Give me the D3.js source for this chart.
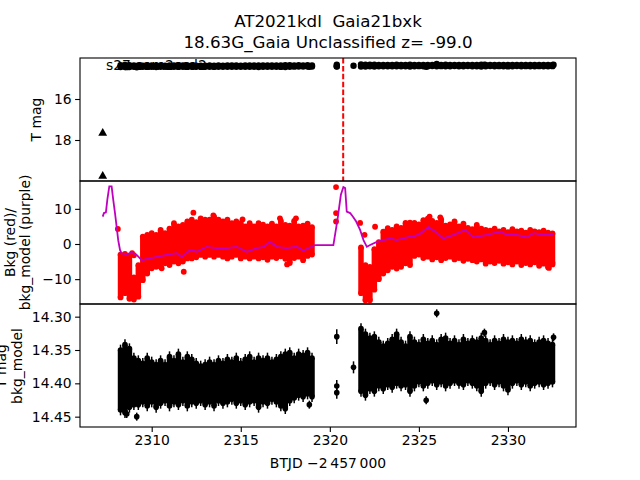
<!DOCTYPE html>
<html>
<head>
<meta charset="utf-8">
<script src="https://cdn.jsdelivr.net/npm/d3@7"></script>
<style>
  body { margin: 0; background: #fff; }
  text { font-family: "DejaVu Sans", sans-serif; }
</style>
</head>
<body>
<div id="chart"></div>
<script>
// Light curve of AT2021kdl, three stacked panels sharing the time axis.
// Dense bands are stored as per-time envelopes (top/bottom).

const seg1T = [2308.25, 2308.5, 2308.75, 2309, 2309.25, 2309.5, 2309.75, 2310, 2310.25, 2310.5,
  2310.75, 2311, 2311.25, 2311.5, 2311.75, 2312, 2312.25, 2312.5, 2312.75, 2313,
  2313.25, 2313.5, 2313.75, 2314, 2314.25, 2314.5, 2314.75, 2315, 2315.25, 2315.5,
  2315.75, 2316, 2316.25, 2316.5, 2316.75, 2317, 2317.25, 2317.5, 2317.75, 2318,
  2318.25, 2318.5, 2318.75, 2319];
const seg2T = [2321.75, 2322, 2322.25, 2322.5, 2322.75, 2323, 2323.25, 2323.5, 2323.75, 2324,
  2324.25, 2324.5, 2324.75, 2325, 2325.25, 2325.5, 2325.75, 2326, 2326.25, 2326.5,
  2326.75, 2327, 2327.25, 2327.5, 2327.75, 2328, 2328.25, 2328.5, 2328.75, 2329,
  2329.25, 2329.5, 2329.75, 2330, 2330.25, 2330.5, 2330.75, 2331, 2331.25, 2331.5,
  2331.75, 2332, 2332.25, 2332.5];

// T mag - bkg_model (bright edge / faint edge of the band)
const magTop1 = [14.350, 14.342, 14.348, 14.362, 14.366, 14.370, 14.362, 14.368, 14.372, 14.366,
  14.372, 14.360, 14.366, 14.356, 14.368, 14.360, 14.364, 14.370, 14.374, 14.372,
  14.368, 14.372, 14.366, 14.370, 14.364, 14.368, 14.362, 14.370, 14.364, 14.360,
  14.368, 14.362, 14.366, 14.362, 14.368, 14.364, 14.360, 14.356, 14.354, 14.362,
  14.356, 14.358, 14.354, 14.362];
const magBot1 = [14.440, 14.444, 14.436, 14.432, 14.432, 14.428, 14.434, 14.428, 14.436, 14.430,
  14.426, 14.434, 14.428, 14.432, 14.426, 14.434, 14.428, 14.430, 14.426, 14.432,
  14.428, 14.434, 14.426, 14.430, 14.428, 14.424, 14.430, 14.426, 14.432, 14.428,
  14.426, 14.436, 14.428, 14.430, 14.424, 14.428, 14.434, 14.438, 14.426, 14.422,
  14.418, 14.420, 14.416, 14.420];
const magTop2 = [14.318, 14.326, 14.332, 14.330, 14.338, 14.344, 14.340, 14.334, 14.326, 14.338,
  14.344, 14.330, 14.338, 14.342, 14.334, 14.340, 14.336, 14.342, 14.334, 14.332,
  14.340, 14.336, 14.342, 14.334, 14.340, 14.336, 14.338, 14.332, 14.336, 14.342,
  14.336, 14.340, 14.334, 14.338, 14.336, 14.340, 14.334, 14.338, 14.336, 14.342,
  14.338, 14.336, 14.340, 14.342];
const magBot2 = [14.412, 14.418, 14.408, 14.412, 14.404, 14.408, 14.402, 14.406, 14.400, 14.404,
  14.402, 14.412, 14.404, 14.398, 14.404, 14.400, 14.396, 14.402, 14.398, 14.404,
  14.400, 14.396, 14.400, 14.402, 14.396, 14.400, 14.404, 14.412, 14.400, 14.396,
  14.402, 14.398, 14.404, 14.410, 14.400, 14.396, 14.402, 14.398, 14.404, 14.400,
  14.398, 14.402, 14.400, 14.398];
// single points: [time, mag, error]
const magExtra = [[2309.16, 14.450, 0.006], [2308.6, 14.446, 0.006], [2318.85, 14.432, 0.006],
  [2320.39, 14.330, 0.011], [2320.39, 14.404, 0.009], [2320.39, 14.414, 0.009],
  [2321.33, 14.376, 0.009], [2325.41, 14.4255, 0.006], [2326.0, 14.295, 0.006],
  [2328.68, 14.324, 0.006], [2332.56, 14.331, 0.006]];
const magErr = 0.008;

// background flux (red), band edges
const bkgTop1 = [-3.0, -2.8, -3.5, -9.5, -6.0, 2.1, 2.6, 3.1, 2.6, 4.0,
  3.1, 4.4, 5.9, 5.0, 5.4, 6.4, 6.9, 6.2, 7.3, 6.9,
  6.9, 7.8, 6.9, 6.4, 6.9, 5.9, 6.4, 5.9, 5.0, 5.9,
  5.0, 5.9, 5.5, 5.0, 5.8, 5.0, 6.6, 5.4, 5.2, 6.6,
  5.0, 5.2, 5.8, 4.8];
const bkgBot1 = [-15.2, -14.0, -15.6, -15.8, -15.0, -10.3, -8.4, -6.9, -6.5, -6.5,
  -5.5, -6.0, -5.0, -5.5, -5.0, -4.1, -4.1, -3.8, -3.1, -3.6,
  -3.1, -3.6, -3.1, -3.6, -4.1, -3.6, -3.1, -4.1, -3.6, -4.1,
  -3.6, -4.1, -3.8, -4.5, -3.6, -4.0, -3.5, -4.2, -5.4, -4.0,
  -3.6, -4.6, -3.4, -3.0];
const bkgTop2 = [-1.0, -6.0, -6.5, -1.5, 0.5, 3.5, 4.5, 4.0, 5.0, 4.6,
  6.0, 5.4, 6.0, 5.6, 6.8, 7.2, 6.6, 6.0, 7.0, 5.2,
  5.6, 6.4, 5.0, 5.8, 4.6, 4.2, 5.4, 4.4, 4.0, 3.8,
  4.4, 3.6, 4.0, 3.4, 4.2, 3.6, 3.8, 3.2, 4.0, 3.6,
  3.4, 3.8, 3.2, 3.0];
const bkgBot2 = [-14.0, -16.0, -16.0, -13.0, -10.0, -8.4, -7.5, -6.5, -7.0, -6.5,
  -5.5, -6.0, -3.4, -3.0, -4.0, -3.6, -4.4, -3.8, -4.6, -4.0,
  -3.6, -4.4, -4.0, -4.8, -4.2, -4.6, -5.0, -4.4, -5.6, -5.0,
  -5.4, -4.8, -5.6, -5.2, -5.8, -5.0, -6.0, -5.4, -5.8, -5.2,
  -6.2, -5.6, -6.6, -5.4];
const bkgExtra = [[2308.1, 4.3], [2309.0, -3.2], [2308.9, -2.6], [2310.56, -6.9], [2311.8, -7.9],
  [2312.34, 8.9], [2313.46, 8.1], [2315.1, 7.0], [2317.2, 7.3], [2318.1, 7.3], [2317.6, -5.8],
  [2320.35, 16.2], [2320.35, 8.8], [2320.35, 6.4], [2321.7, 6.0], [2321.95, 2.6],
  [2322.54, 4.9], [2324.5, 6.1], [2325.6, 7.8], [2326.2, 7.6], [2332.3, -6.8], [2332.5, -5.8]];

// bkg_model (purple line)
const modelT = [2307.25, 2307.32, 2307.43, 2307.51, 2307.62, 2307.75, 2307.84, 2307.94, 2308.03, 2308.12,
  2308.22, 2308.31, 2308.6, 2308.88, 2309.16, 2309.44, 2309.9, 2310.37, 2310.84, 2311.4,
  2311.69, 2312.15, 2312.53, 2313.09, 2313.65, 2314.21, 2314.78, 2315.34, 2315.9, 2316.27,
  2316.65, 2317.02, 2317.58, 2318.15, 2318.52, 2318.8, 2319.17, 2320.2, 2320.43, 2320.62,
  2320.76, 2320.86, 2320.95, 2321.14, 2321.29, 2321.48, 2321.7, 2321.89, 2322.08, 2322.26,
  2322.64, 2323.01, 2323.39, 2323.76, 2324.13, 2324.51, 2324.7, 2325.07, 2325.54, 2325.92,
  2326.38, 2326.94, 2327.6, 2328.07, 2328.82, 2329.57, 2329.94, 2330.5, 2331.07, 2331.44,
  2332.0, 2332.56];
const modelV = [7.8, 8.8, 9.0, 12.6, 16.4, 16.4, 12.6, 8.8, 5.0, 1.1,
  -1.7, -2.7, -2.9, -2.5, -3.1, -4.6, -4.1, -3.6, -3.1, -2.6,
  -3.6, -1.7, -2.2, -0.8, -1.2, -1.2, -0.8, -2.2, -1.2, -0.8,
  0.6, -0.8, -1.2, -0.8, -1.9, -1.2, -0.3, -0.3, 6.9, 14.0,
  16.2, 15.9, 9.2, 8.8, 7.8, 6.4, 4.0, 1.1, -0.8, -0.3,
  0.6, 1.1, 1.6, 1.1, 1.6, 2.1, 2.1, 2.9, 4.8, 3.5,
  1.6, 2.6, 4.0, 1.9, 2.6, 3.5, 2.6, 2.6, 1.9, 3.1,
  2.6, 2.6];

// upper limits (triangles) in the top panel
const limT = [2307.25, 2307.25];
const limMag = [17.67, 19.76];

const peakT = 2320.75;  // red dashed line

const xTicks = [2310, 2315, 2320, 2325, 2330];
const topTicks = [16, 18];
const bkgTicks = [10, 0, -10];
const magTicks = [14.30, 14.35, 14.40, 14.45];

const width = 640;
const height = 480;
const LEFT = 80;
const RIGHT = 576;
const FS = 13.9;

function columns(ts, lo, hi) {
  return ts.map((t, i) => ({ t: t, lo: lo[i], hi: hi[i] }));
}

function main() {
  let svg = d3.select("#chart")
      .append("svg")
      .attr("width", width)
      .attr("height", height);

  let x = d3.scaleLinear().domain([2305.975, 2333.82]).range([LEFT, RIGHT]);
  let yTop = d3.scaleLinear().domain([14.0, 20.0]).range([58, 181]);
  let yBkg = d3.scaleLinear().domain([17.92, -17.07]).range([181, 304]);
  let yMag = d3.scaleLinear().domain([14.281, 14.4655]).range([304, 427]);

  let magCols = columns(seg1T, magTop1, magBot1).concat(columns(seg2T, magTop2, magBot2));
  let bkgCols = columns(seg1T, bkgTop1, bkgBot1).concat(columns(seg2T, bkgTop2, bkgBot2));

  // clip each panel
  let defs = svg.append("defs");
  [["c1", 58, 181], ["c2", 181, 304], ["c3", 304, 427]].forEach(c => {
    defs.append("clipPath").attr("id", c[0])
      .append("rect").attr("x", LEFT).attr("y", c[1])
      .attr("width", RIGHT - LEFT).attr("height", c[2] - c[1]);
  });

  // ---- top panel: T mag ----
  let g1 = svg.append("g").attr("clip-path", "url(#c1)");
  g1.append("text")
      .attr("x", 106).attr("y", 70)
      .style("font-size", FS + "px")
      .text("s27 cam2ccd2");
  let topPts = [];
  magCols.forEach(c => { topPts.push([c.t, c.lo]); topPts.push([c.t, c.hi]); });
  magExtra.forEach(p => topPts.push([p[0], p[1]]));
  g1.selectAll("circle.tp").data(topPts).join("circle")
      .attr("cx", d => x(d[0])).attr("cy", d => yTop(d[1]))
      .attr("r", 3.2).attr("fill", "black");
  g1.selectAll("path.lim").data(limT.map((t, i) => [t, limMag[i]])).join("path")
      .attr("transform", d => `translate(${x(d[0])},${yTop(d[1])})`)
      .attr("d", d3.symbol(d3.symbolTriangle, 34))
      .attr("fill", "black");
  g1.append("line")
      .attr("x1", x(peakT)).attr("x2", x(peakT))
      .attr("y1", yTop.range()[0]).attr("y2", yTop.range()[1])
      .attr("stroke", "red").attr("stroke-width", 2)
      .attr("stroke-dasharray", "5.5,2.4");

  // ---- middle panel: background ----
  let g2 = svg.append("g").attr("clip-path", "url(#c2)");
  g2.selectAll("line.bk").data(bkgCols).join("line")
      .attr("x1", d => x(d.t)).attr("x2", d => x(d.t))
      .attr("y1", d => yBkg(d.lo)).attr("y2", d => yBkg(d.hi))
      .attr("stroke", "red").attr("stroke-width", 5.5);
  let redPts = [];
  bkgCols.forEach(c => { redPts.push([c.t, c.lo]); redPts.push([c.t, c.hi]); });
  bkgExtra.forEach(p => redPts.push(p));
  g2.selectAll("circle.rp").data(redPts).join("circle")
      .attr("cx", d => x(d[0])).attr("cy", d => yBkg(d[1]))
      .attr("r", 2.9).attr("fill", "red");
  let model = d3.line().x(d => x(d[0])).y(d => yBkg(d[1]));
  g2.append("path")
      .attr("d", model(modelT.map((t, i) => [t, modelV[i]])))
      .attr("fill", "none").attr("stroke", "#bf00bf").attr("stroke-width", 1.8);

  // ---- bottom panel: T mag - bkg_model with error bars ----
  let g3 = svg.append("g").attr("clip-path", "url(#c3)");
  g3.selectAll("line.mc").data(magCols).join("line")
      .attr("x1", d => x(d.t)).attr("x2", d => x(d.t))
      .attr("y1", d => yMag(d.lo)).attr("y2", d => yMag(d.hi))
      .attr("stroke", "black").attr("stroke-width", 5.5);
  let errPts = [];
  magCols.forEach(c => { errPts.push([c.t, c.lo, magErr]); errPts.push([c.t, c.hi, magErr]); });
  magExtra.forEach(p => errPts.push(p));
  g3.selectAll("line.eb").data(errPts).join("line")
      .attr("x1", d => x(d[0])).attr("x2", d => x(d[0]))
      .attr("y1", d => yMag(d[1] - d[2])).attr("y2", d => yMag(d[1] + d[2]))
      .attr("stroke", "black").attr("stroke-width", 1.5);
  g3.selectAll("circle.ep").data(errPts).join("circle")
      .attr("cx", d => x(d[0])).attr("cy", d => yMag(d[1]))
      .attr("r", 2.8).attr("fill", "black");

  // ---- axes ----
  function styleAxis(sel) {
    sel.select(".domain").remove();
    sel.selectAll(".tick line").attr("stroke", "black").attr("stroke-width", 1.1);
    sel.selectAll(".tick text").style("font-size", FS + "px")
      .style("font-family", "DejaVu Sans, sans-serif").attr("fill", "black");
  }
  svg.append("g").attr("transform", `translate(${LEFT},0)`)
      .call(d3.axisLeft(yTop).tickValues(topTicks).tickSize(4.9).tickPadding(3.5).tickFormat(d3.format("d")))
      .call(styleAxis);
  svg.append("g").attr("transform", `translate(${LEFT},0)`)
      .call(d3.axisLeft(yBkg).tickValues(bkgTicks).tickSize(4.9).tickPadding(3.5).tickFormat(d3.format("d")))
      .call(styleAxis);
  svg.append("g").attr("transform", `translate(${LEFT},0)`)
      .call(d3.axisLeft(yMag).tickValues(magTicks).tickSize(4.9).tickPadding(3.5).tickFormat(d3.format(".2f")))
      .call(styleAxis);
  svg.append("g").attr("transform", "translate(0,427)")
      .call(d3.axisBottom(x).tickValues(xTicks).tickSize(4.9).tickPadding(3.5).tickFormat(d3.format("d")))
      .call(styleAxis);

  // frames
  [yTop, yBkg, yMag].forEach(s => {
    svg.append("rect")
        .attr("x", LEFT).attr("y", s.range()[0])
        .attr("width", RIGHT - LEFT).attr("height", s.range()[1] - s.range()[0])
        .attr("fill", "none").attr("stroke", "black").attr("stroke-width", 1.1);
  });

  // labels
  function ylabel(lines, xs, cy) {
    lines.forEach((s, i) => {
      svg.append("text")
          .attr("transform", `translate(${xs[i]},${cy}) rotate(-90)`)
          .attr("text-anchor", "middle")
          .style("font-size", FS + "px")
          .text(s);
    });
  }
  ylabel(["T mag"], [40.5], 119.5);
  ylabel(["Bkg (red)/", "bkg_model (purple)"], [14.5, 30], 242.5);
  ylabel(["T mag", "bkg_model"], [6, 21.5], 366);

  svg.append("text")
      .attr("x", 328).attr("y", 468)
      .attr("text-anchor", "middle")
      .style("font-size", FS + "px")
      .text("BTJD \u22122\u2009457\u2009000");

  let title = ["AT2021kdl  Gaia21bxk", "18.63G_Gaia Unclassified z= -99.0"];
  title.forEach((s, i) => {
    svg.append("text")
        .attr("x", 328).attr("y", 27 + i * 21)
        .attr("text-anchor", "middle")
        .style("font-size", "16.7px")
        .style("white-space", "pre")
        .text(s);
  });
}

main();
</script>
</body>
</html>
